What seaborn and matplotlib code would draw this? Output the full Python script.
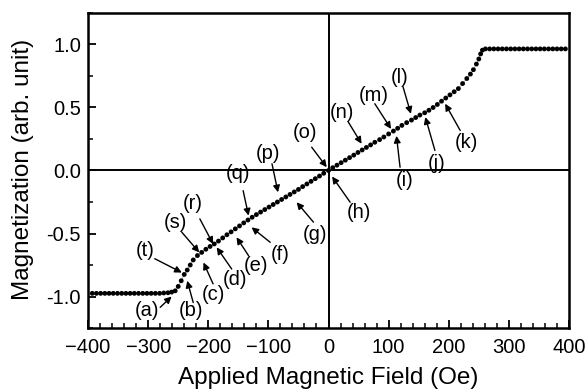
import matplotlib
matplotlib.use("Agg")
import matplotlib.pyplot as plt
from matplotlib.ticker import MultipleLocator
import pandas as pd
import seaborn as sns

# Measured magnetization curve (field in Oe, normalized magnetization)
field_oe = [
    -393, -386, -379, -372, -365, -358, -351, -344, -337, -330,
    -323, -316, -309, -302, -295, -288, -281, -274, -267, -261,
    -255, -250, -245, -240, -235, -230, -225, -218, -211, -204,
    -197, -190, -183, -176, -169, -162, -155, -148, -141, -134,
    -127, -120, -113, -106, -99, -92, -85, -78, -71, -64,
    -57, -50, -43, -36, -29, -22, -15, -8, 0,
    7, 14, 21, 28, 35, 42, 49, 56, 63, 70,
    77, 85, 92, 100, 108, 115, 122, 130, 138, 145,
    152, 160, 167, 174, 181, 188, 195, 202, 209, 216,
    223, 230, 236, 241, 246, 250, 253, 256,
    261, 268, 275, 282, 289, 296, 303, 310, 317, 324,
    331, 338, 345, 352, 359, 366, 373, 380, 387, 394,
]
magnetization = [
    -0.975, -0.975, -0.975, -0.975, -0.975, -0.975, -0.975, -0.975, -0.975, -0.975,
    -0.975, -0.975, -0.975, -0.975, -0.975, -0.975, -0.975, -0.972, -0.970, -0.965,
    -0.955, -0.920, -0.875, -0.825, -0.790, -0.750, -0.710, -0.675, -0.650, -0.625,
    -0.603, -0.583, -0.560, -0.535, -0.510, -0.487, -0.463, -0.440, -0.416, -0.393,
    -0.371, -0.350, -0.330, -0.310, -0.290, -0.270, -0.250, -0.230, -0.210, -0.190,
    -0.170, -0.150, -0.128, -0.107, -0.086, -0.065, -0.044, -0.022, 0.000,
    0.022, 0.042, 0.062, 0.082, 0.102, 0.122, 0.143, 0.163, 0.183, 0.203,
    0.224, 0.245, 0.266, 0.290, 0.313, 0.335, 0.358, 0.380, 0.400, 0.420,
    0.440, 0.458, 0.478, 0.500, 0.524, 0.550, 0.575, 0.600, 0.625, 0.650,
    0.690, 0.730, 0.765, 0.800, 0.845, 0.885, 0.925, 0.955,
    0.965, 0.965, 0.965, 0.965, 0.965, 0.965, 0.965, 0.965, 0.965, 0.965,
    0.965, 0.965, 0.965, 0.965, 0.965, 0.965, 0.965, 0.965, 0.965, 0.965,
]

# Labelled states along the curve: text centre, arrow start, arrow tip
state_labels = ["(a)", "(b)", "(c)", "(d)", "(e)", "(f)", "(g)", "(h)", "(i)", "(j)",
                "(k)", "(l)", "(m)", "(n)", "(o)", "(p)", "(q)", "(r)", "(s)", "(t)"]
label_x = [-302, -228, -192, -156, -120, -81, -23, 50, 127, 180,
           230, 119, 75, 22, -39, -100, -150, -225, -255, -305]
label_y = [-1.114, -1.114, -0.981, -0.862, -0.756, -0.663, -0.504, -0.331, -0.080, 0.053,
           0.225, 0.742, 0.597, 0.464, 0.305, 0.132, -0.026, -0.265, -0.410, -0.636]
arrow_x0 = [-280, -225, -192, -161, -133, -97, -25, 36, 119, 177,
            219, 124, 77, 33, -28, -94, -142, -214, -244, -289]
arrow_y0 = [-1.086, -1.048, -0.900, -0.782, -0.676, -0.570, -0.410, -0.252, 0.026, 0.159,
            0.318, 0.663, 0.530, 0.384, 0.185, 0.053, -0.160, -0.384, -0.490, -0.700]
arrow_x1 = [-261, -235, -208, -186, -153, -128, -53, 6, 113, 161,
            194, 137, 104, 55, -3, -84, -133, -192, -215, -244]
arrow_y1 = [-1.000, -0.875, -0.730, -0.610, -0.530, -0.451, -0.252, -0.048, 0.275, 0.424,
            0.530, 0.450, 0.330, 0.212, 0.026, -0.173, -0.358, -0.583, -0.650, -0.810]

sns.set_theme(style="white")
plt.rcParams["font.family"] = ["Liberation Sans", "DejaVu Sans"]
plt.rcParams["axes.unicode_minus"] = True

curve = pd.DataFrame({"field": field_oe, "m": magnetization})

fig = plt.figure(figsize=(5.88, 3.89), dpi=100)
ax = fig.add_axes([0.1497, 0.1568, 0.8180, 0.8098])

sns.lineplot(data=curve, x="field", y="m", sort=False, color="#a8a8a8",
             linewidth=0.6, ax=ax, zorder=2)
sns.scatterplot(data=curve, x="field", y="m", color="black", s=12,
                edgecolor="none", ax=ax, zorder=3)

ax.axhline(0, color="black", lw=1.4, zorder=1)
ax.axvline(0, color="black", lw=1.4, zorder=1)

for lab, lx, ly, x0, y0, x1, y1 in zip(state_labels, label_x, label_y,
                                      arrow_x0, arrow_y0, arrow_x1, arrow_y1):
    ax.text(lx, ly, lab, ha="center", va="center", fontsize=14.5, color="black")
    ax.annotate("", xy=(x1, y1), xytext=(x0, y0),
                arrowprops=dict(arrowstyle="-|>", color="black", lw=1.0,
                                mutation_scale=10, shrinkA=0, shrinkB=0))

ax.set_xlim(-400, 400)
ax.set_ylim(-1.25, 1.25)
ax.xaxis.set_major_locator(MultipleLocator(100))
ax.xaxis.set_minor_locator(MultipleLocator(20))
ax.yaxis.set_major_locator(MultipleLocator(0.5))
ax.yaxis.set_minor_locator(MultipleLocator(0.25))
ax.yaxis.set_major_formatter(matplotlib.ticker.FormatStrFormatter("%.1f"))

ax.tick_params(which="both", direction="in", bottom=True, left=True,
               top=False, right=False, colors="black", labelsize=14.5)
ax.tick_params(which="major", length=6, width=1.3)
ax.tick_params(which="minor", length=3.5, width=1.1)
ax.tick_params(axis="x", which="major", pad=7)
ax.tick_params(axis="y", which="major", pad=5)

for side in ax.spines.values():
    side.set_color("black")
    side.set_linewidth(1.8)

ax.set_xlabel("Applied Magnetic Field (Oe)", fontsize=17.5, color="black")
ax.set_ylabel("Magnetization (arb. unit)", fontsize=17.5, color="black")
ax.xaxis.label.set_va("center")
ax.yaxis.label.set_va("center")
ax.xaxis.set_label_coords(0.5, -0.159)
ax.yaxis.set_label_coords(-0.135, 0.503)

fig.savefig("out.png", dpi=100)
